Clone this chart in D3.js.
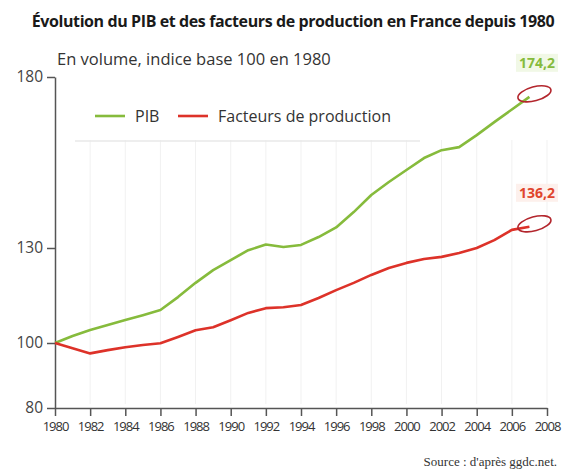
<!DOCTYPE html>
<html>
<head>
<meta charset="utf-8">
<script src="https://cdn.jsdelivr.net/npm/d3@7"></script>
<style>
  body { margin: 0; background: #fff; }
  text { font-family: "Open Sans", "Noto Sans", sans-serif; }
</style>
</head>
<body>
<script>
// valeurs (indice 100 en 1980)
var years = [1980, 1981, 1982, 1983, 1984, 1985, 1986, 1987, 1988, 1989, 1990, 1991, 1992, 1993,
  1994, 1995, 1996, 1997, 1998, 1999, 2000, 2001, 2002, 2003, 2004, 2005, 2006, 2007];
var pib = [100, 102.2, 104.1, 105.7, 107.3, 108.8, 110.4, 114.5, 119, 123, 126.2, 129.3, 131, 130.3,
  130.9, 133.2, 136, 140.5, 145.5, 149.3, 152.8, 156.3, 158.6, 159.5, 163, 166.8, 170.5, 174.2];
var facteurs = [100, 98.4, 96.8, 97.8, 98.7, 99.4, 99.9, 101.9, 104, 105, 107.2, 109.5, 111, 111.3,
  112, 114.2, 116.7, 119, 121.5, 123.7, 125.3, 126.5, 127.2, 128.4, 130, 132.3, 135.3, 136.2];
var xTicks = [1980, 1982, 1984, 1986, 1988, 1990, 1992, 1994, 1996, 1998, 2000, 2002, 2004, 2006, 2008];
var yTicks = [80, 100, 130, 180];
var seriesNames = ['PIB', 'Facteurs de production'];
var endLabels = ['174,2', '136,2'];

var green = '#86bb3c', red = '#dd3229';

var svg = d3.select('body').append('svg')
  .attr('width', 565)
  .attr('height', 472);

var x = d3.scaleLinear().domain([1980, 2008]).range([55, 547]);
// l'axe d'origine n'est pas tout a fait regulier
var y = d3.scaleLinear().domain([80, 100, 130, 180]).range([408, 343, 248, 77]);

// grille verticale tres pale
svg.append('g').selectAll('line')
  .data(xTicks.slice(1))
  .enter().append('line')
    .attr('x1', function(d) { return x(d); })
    .attr('x2', function(d) { return x(d); })
    .attr('y1', 140).attr('y2', 404)
    .style('stroke', '#f1f1f1');

// cadre de la legende
svg.append('line')
  .attr('x1', 75).attr('x2', 420).attr('y1', 141).attr('y2', 141)
  .style('stroke', '#e8e8e8').style('stroke-width', 1.5);

// titres
svg.append('text')
  .attr('x', 293).attr('y', 27)
  .attr('text-anchor', 'middle')
  .style('font-size', '16px').style('font-weight', 'bold').style('fill', '#1a1a1a')
  .style('letter-spacing', '-0.4px')
  .text('Évolution du PIB et des facteurs de production en France depuis 1980');

svg.append('text')
  .attr('x', 57).attr('y', 65)
  .style('font-size', '16.5px').style('fill', '#333')
  .text('En volume, indice base 100 en 1980');

// axes
var xAxis = svg.append('g')
  .attr('transform', 'translate(0,408)')
  .call(d3.axisBottom(x).tickValues(xTicks).tickSize(8).tickSizeOuter(0).tickFormat(d3.format('d')));
xAxis.selectAll('text')
  .attr('y', 14)
  .style('font-size', '13px').style('letter-spacing', '-1px').style('fill', '#333')
  .style('font-family', '"Open Sans", sans-serif');

var yAxis = svg.append('g')
  .attr('transform', 'translate(55,0)')
  .call(d3.axisLeft(y).tickValues(yTicks).tickSize(8).tickSizeOuter(0));
yAxis.selectAll('text')
  .attr('x', -12)
  .style('font-size', '15.5px').style('fill', '#444')
  .style('font-family', '"Open Sans", sans-serif');

svg.selectAll('.domain, .tick line')
  .style('stroke', '#555').style('stroke-width', 1.5);

// courbes
var line = d3.line()
  .x(function(d) { return x(d[0]); })
  .y(function(d) { return y(d[1]); });

[pib, facteurs].forEach(function(vals, i) {
  var pts = years.map(function(yr, j) { return [yr, vals[j]]; });
  svg.append('path')
    .datum(pts)
    .attr('d', line)
    .style('fill', 'none')
    .style('stroke', i === 0 ? green : red)
    .style('stroke-width', 2.6)
    .style('stroke-linejoin', 'round');

  // entourage a la main et valeur finale
  var last = pts[pts.length - 1];
  var cx = x(last[0]) + 5, cy = y(last[1]) - 3;
  svg.append('ellipse')
    .attr('cx', cx).attr('cy', cy)
    .attr('rx', 17).attr('ry', 7)
    .attr('transform', 'rotate(-15,' + cx + ',' + cy + ')')
    .style('fill', 'none').style('stroke', '#b3262d').style('stroke-width', 1.6);

  svg.append('rect')
    .attr('x', 516).attr('y', cy - 40)
    .attr('width', 42).attr('height', 18)
    .style('fill', i === 0 ? '#f1f8e6' : '#fdf0ec');
  svg.append('text')
    .attr('x', 537).attr('y', cy - 26)
    .attr('text-anchor', 'middle')
    .style('font-size', '14px').style('font-weight', 'bold')
    .style('fill', i === 0 ? green : '#e0442c')
    .text(endLabels[i]);
});

// legende
var legend = svg.append('g');
var legX = [95, 178];
seriesNames.forEach(function(name, i) {
  legend.append('line')
    .attr('x1', legX[i]).attr('x2', legX[i] + 30)
    .attr('y1', 116).attr('y2', 116)
    .style('stroke', i === 0 ? green : red).style('stroke-width', 2.6);
  legend.append('text')
    .attr('x', legX[i] + 40).attr('y', 122)
    .style('font-size', '16px').style('fill', '#333')
    .text(name);
});

// source
svg.append('text')
  .attr('x', 557).attr('y', 466)
  .attr('text-anchor', 'end')
  .style('font-family', '"Liberation Serif", "DejaVu Serif", serif')
  .style('font-size', '13px').style('fill', '#333')
  .text("Source : d'après ggdc.net.");
</script>
</body>
</html>
